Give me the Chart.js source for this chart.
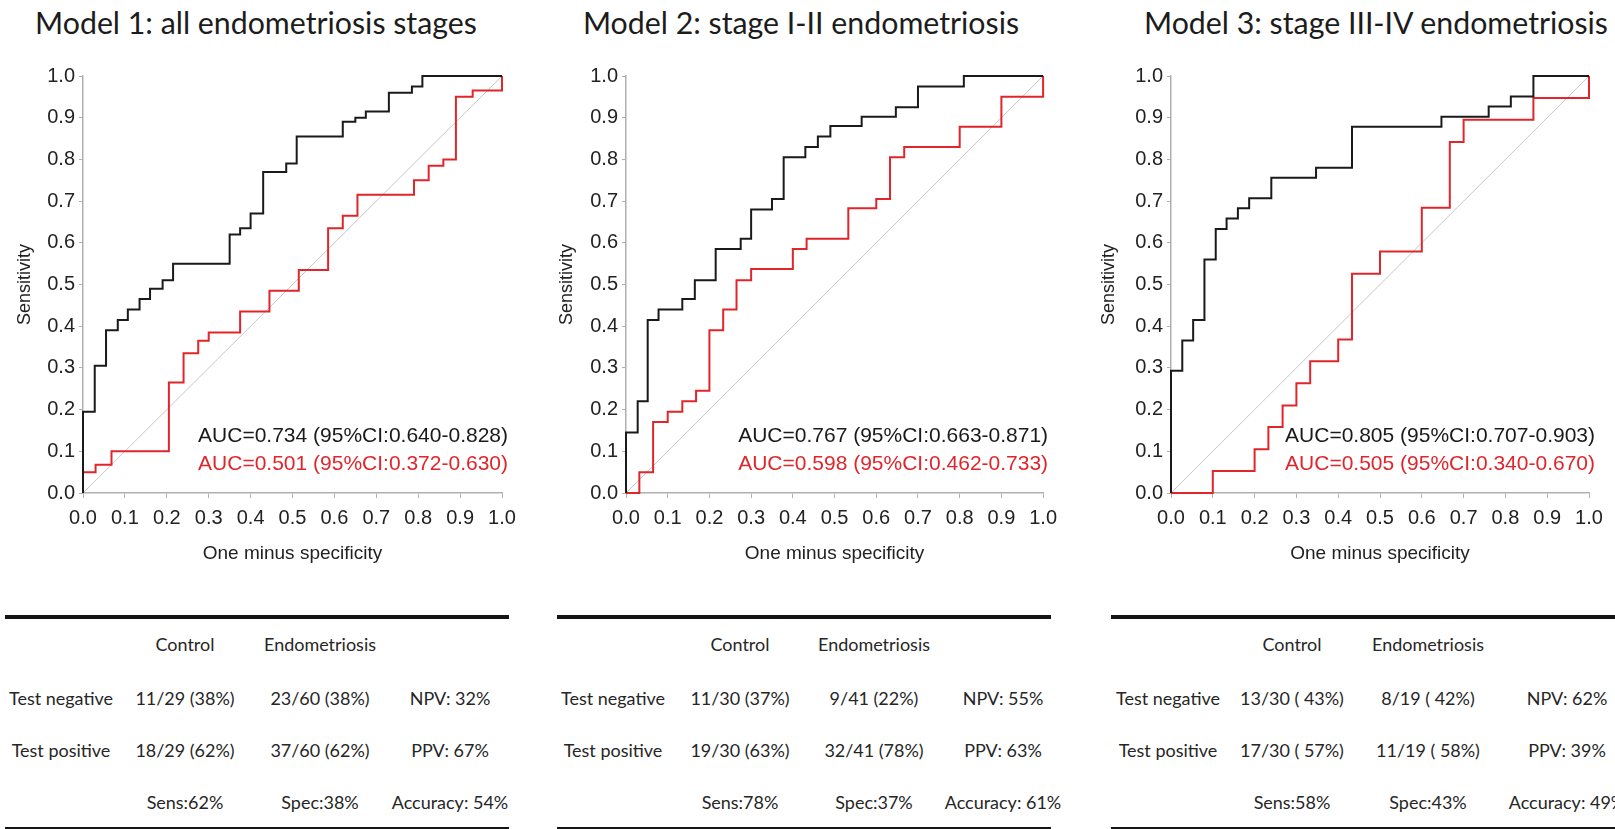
<!DOCTYPE html>
<html>
<head>
<meta charset="utf-8">
<script src="https://cdn.jsdelivr.net/npm/chart.js@4.4.0/dist/chart.umd.min.js"></script>
<style>
    html, body { margin: 0; padding: 0; background: #fff; }
    body { width: 1615px; height: 829px; position: relative; overflow: hidden; font-family: Lato, 'Noto Sans', sans-serif; }
    canvas { position: absolute; }
    .title, .cell { position: absolute; white-space: pre; transform: translate(-50%, -50%); line-height: 1.2; }
    .title { color: #1c1c1c; }
    .cell { color: #262626; }
    .rule { position: absolute; background: #151515; }
</style>
</head>
<body>
<script>
// ---- data ----
const axisTicks = [0, 0.1, 0.2, 0.3, 0.4, 0.5, 0.6, 0.7, 0.8, 0.9, 1.0];

const titles = [
    'Model 1: all endometriosis stages',
    'Model 2: stage I-II endometriosis',
    'Model 3: stage III-IV endometriosis'
];

// model 1 (one minus specificity / sensitivity)
const m1BlackX = [0, 0, 0.028, 0.055, 0.083, 0.107, 0.135, 0.16, 0.19, 0.215, 0.35, 0.375, 0.40, 0.43, 0.485, 0.51, 0.62, 0.65, 0.675, 0.73, 0.785, 0.81, 1.0];
const m1BlackY = [0, 0.195, 0.305, 0.39, 0.415, 0.44, 0.465, 0.49, 0.51, 0.55, 0.62, 0.635, 0.67, 0.77, 0.79, 0.855, 0.89, 0.90, 0.915, 0.96, 0.975, 1.0, 1.0];
const m1RedX = [0, 0, 0.03, 0.068, 0.205, 0.24, 0.275, 0.30, 0.375, 0.445, 0.515, 0.585, 0.62, 0.655, 0.79, 0.825, 0.86, 0.89, 0.93, 1.0, 1.0];
const m1RedY = [0, 0.05, 0.068, 0.10, 0.265, 0.335, 0.365, 0.385, 0.435, 0.485, 0.535, 0.635, 0.665, 0.715, 0.75, 0.785, 0.80, 0.95, 0.965, 0.965, 1.0];

// model 2
const m2BlackX = [0, 0, 0.028, 0.052, 0.078, 0.135, 0.165, 0.215, 0.275, 0.30, 0.35, 0.378, 0.43, 0.46, 0.49, 0.565, 0.647, 0.70, 0.81, 1.0];
const m2BlackY = [0, 0.145, 0.22, 0.415, 0.44, 0.465, 0.51, 0.585, 0.61, 0.68, 0.705, 0.805, 0.83, 0.855, 0.88, 0.902, 0.925, 0.975, 1.0, 1.0];
const m2RedX = [0, 0.032, 0.065, 0.10, 0.135, 0.168, 0.20, 0.233, 0.265, 0.30, 0.40, 0.433, 0.533, 0.60, 0.633, 0.667, 0.80, 0.90, 1.0, 1.0];
const m2RedY = [0, 0.05, 0.17, 0.195, 0.22, 0.245, 0.39, 0.44, 0.51, 0.537, 0.585, 0.61, 0.683, 0.705, 0.805, 0.83, 0.878, 0.95, 0.95, 1.0];

// model 3
const m3BlackX = [0, 0, 0.027, 0.053, 0.08, 0.107, 0.133, 0.16, 0.187, 0.24, 0.347, 0.433, 0.647, 0.76, 0.813, 0.867, 1.0];
const m3BlackY = [0, 0.293, 0.366, 0.415, 0.56, 0.633, 0.658, 0.683, 0.707, 0.756, 0.78, 0.878, 0.902, 0.927, 0.951, 1.0, 1.0];
const m3RedX = [0, 0.10, 0.20, 0.233, 0.267, 0.30, 0.333, 0.40, 0.433, 0.50, 0.60, 0.667, 0.70, 0.867, 1.0, 1.0];
const m3RedY = [0, 0.053, 0.105, 0.158, 0.21, 0.263, 0.316, 0.368, 0.526, 0.579, 0.684, 0.842, 0.895, 0.947, 0.947, 1.0];

const m1Auc = ['AUC=0.734 (95%CI:0.640-0.828)', 'AUC=0.501 (95%CI:0.372-0.630)'];
const m2Auc = ['AUC=0.767 (95%CI:0.663-0.871)', 'AUC=0.598 (95%CI:0.462-0.733)'];
const m3Auc = ['AUC=0.805 (95%CI:0.707-0.903)', 'AUC=0.505 (95%CI:0.340-0.670)'];

// 2x2 tables under each plot
const tableColumns = ['Control', 'Endometriosis'];
const rowNames = ['Test negative', 'Test positive'];
const m1Negative = ['11/29 (38%)', '23/60 (38%)', 'NPV: 32%'];
const m1Positive = ['18/29 (62%)', '37/60 (62%)', 'PPV: 67%'];
const m1Summary = ['Sens:62%', 'Spec:38%', 'Accuracy: 54%'];
const m2Negative = ['11/30 (37%)', '9/41 (22%)', 'NPV: 55%'];
const m2Positive = ['19/30 (63%)', '32/41 (78%)', 'PPV: 63%'];
const m2Summary = ['Sens:78%', 'Spec:37%', 'Accuracy: 61%'];
const m3Negative = ['13/30 ( 43%)', '8/19 ( 42%)', 'NPV: 62%'];
const m3Positive = ['17/30 ( 57%)', '11/19 ( 58%)', 'PPV: 39%'];
const m3Summary = ['Sens:58%', 'Spec:43%', 'Accuracy: 49%'];

// ---- look ----
const BLACK = '#1a1a1a';
const RED = '#e0262b';
const AXIS_GREY = '#b0b0b0';
const ARIAL = "'Liberation Sans', Arial, sans-serif";

Chart.defaults.font.family = ARIAL;
Chart.defaults.color = '#222';

// AUC captions sit just inside the lower right corner of the plot
const aucPlugin = {
    id: 'aucText',
    afterDatasetsDraw(chart, args, opts) {
        const { ctx, chartArea, scales } = chart;
        ctx.save();
        ctx.font = `${opts.size}px ${ARIAL}`;
        ctx.textAlign = 'right';
        ctx.textBaseline = 'middle';
        opts.lines.forEach((text, i) => {
            ctx.fillStyle = i === 0 ? BLACK : RED;
            ctx.fillText(text, chartArea.right + opts.dx, scales.y.getPixelForValue(opts.rows[i]));
        });
        ctx.restore();
    }
};

const toPoints = (xs, ys) => xs.map((x, i) => ({ x, y: ys[i] }));

class RocPanel {
    constructor(cfg) {
        this.cfg = cfg;
        this.chart = null;
    }

    draw() {
        const c = this.cfg;
        const canvas = document.createElement('canvas');
        canvas.width = c.box.w;
        canvas.height = c.box.h;
        canvas.style.left = c.box.x + 'px';
        canvas.style.top = c.box.y + 'px';
        document.body.appendChild(canvas);

        const axis = (extra) => ({
            type: 'linear',
            min: 0,
            max: 1,
            afterBuildTicks: (s) => { s.ticks = axisTicks.map(v => ({ value: v })); },
            border: { display: true, color: AXIS_GREY, width: 1.5 },
            ...extra
        });

        this.chart = new Chart(canvas.getContext('2d'), {
            type: 'line',
            data: {
                datasets: [
                    { data: toPoints(c.blackX, c.blackY), borderColor: BLACK, borderWidth: 2, stepped: 'before' },
                    { data: toPoints(c.redX, c.redY), borderColor: RED, borderWidth: 2, stepped: 'before' },
                    { data: toPoints([0, 1], [0, 1]), borderColor: '#c6c6c6', borderWidth: 1 }
                ]
            },
            options: {
                responsive: false,
                animation: false,
                elements: { point: { radius: 0 }, line: { tension: 0 } },
                datasets: { line: { clip: false } },
                layout: { padding: { left: 0, top: c.plot.top - c.box.y, right: c.box.x + c.box.w - c.plot.right, bottom: 0 } },
                plugins: {
                    legend: { display: false },
                    tooltip: { enabled: false },
                    aucText: { lines: c.auc, rows: [0.136, 0.068], dx: c.aucDx, size: 21 }
                },
                scales: {
                    x: axis({
                        position: 'bottom',
                        grid: { drawOnChartArea: false, drawTicks: true, tickLength: 5, color: AXIS_GREY, tickColor: AXIS_GREY },
                        ticks: { autoSkip: false, maxRotation: 0, padding: 8, font: { size: 20 }, callback: v => v.toFixed(1) },
                        title: { display: true, text: 'One minus specificity', font: { size: 19 }, padding: { top: 0, bottom: 10 } },
                        afterFit: (s) => { s.height = c.box.y + c.box.h - c.plot.bottom; }
                    }),
                    y: axis({
                        position: 'left',
                        grid: { drawOnChartArea: false, drawTicks: true, tickLength: 4, color: AXIS_GREY, tickColor: AXIS_GREY },
                        ticks: { autoSkip: false, padding: 4, font: { size: 20 }, callback: v => v.toFixed(1) },
                        title: { display: true, text: 'Sensitivity', font: { size: 18 }, padding: { top: c.yTitlePad, bottom: 0 } },
                        afterFit: (s) => { s.width = c.plot.left - c.box.x; }
                    })
                }
            },
            plugins: [aucPlugin]
        });
    }
}

function textWidth(text, font) {
    const ctx = document.createElement('canvas').getContext('2d');
    ctx.font = font;
    return ctx.measureText(text).width;
}

function addText(cls, text, x, y, size) {
    const el = document.createElement('div');
    el.className = cls;
    el.textContent = text;
    el.style.left = x + 'px';
    el.style.top = y + 'px';
    el.style.fontSize = size + 'px';
    document.body.appendChild(el);
}

function addRule(x, y, w, h) {
    const el = document.createElement('div');
    el.className = 'rule';
    Object.assign(el.style, { left: x + 'px', top: y + 'px', width: w + 'px', height: h + 'px' });
    document.body.appendChild(el);
}

// ---- layout ----
const panels = [
    { box: { x: 0, y: 60, w: 530, h: 515 }, plot: { left: 83, right: 502, top: 73, bottom: 493 }, yTitlePad: 14, aucDx: 6,
      blackX: m1BlackX, blackY: m1BlackY, redX: m1RedX, redY: m1RedY, auc: m1Auc,
      titleX: 256, rule: [5, 504], cols: [61, 185, 320, 450], rows: [m1Negative, m1Positive, m1Summary] },
    { box: { x: 535, y: 60, w: 530, h: 515 }, plot: { left: 626, right: 1047, top: 73, bottom: 493 }, yTitlePad: 21, aucDx: 5,
      blackX: m2BlackX, blackY: m2BlackY, redX: m2RedX, redY: m2RedY, auc: m2Auc,
      titleX: 801, rule: [557, 494], cols: [613, 740, 874, 1003], rows: [m2Negative, m2Positive, m2Summary] },
    { box: { x: 1075, y: 60, w: 540, h: 515 }, plot: { left: 1171, right: 1589, top: 73, bottom: 493 }, yTitlePad: 23, aucDx: 6,
      blackX: m3BlackX, blackY: m3BlackY, redX: m3RedX, redY: m3RedY, auc: m3Auc,
      titleX: 1376, rule: [1111, 520], cols: [1168, 1292, 1428, 1567], rows: [m3Negative, m3Positive, m3Summary] }
];

const titleSize = 100 * 442 / textWidth(titles[0], '100px Lato');
const cellSize = 100 * 104 / textWidth(rowNames[0], '100px Lato');
const rowY = [699, 751, 803];

panels.forEach((p, i) => {
    new RocPanel(p).draw();
    addText('title', titles[i], p.titleX, 22, titleSize);

    addRule(p.rule[0], 615, p.rule[1], 4);
    addRule(p.rule[0], 827, p.rule[1], 4);
    addText('cell', tableColumns[0], p.cols[1], 645, cellSize);
    addText('cell', tableColumns[1], p.cols[2], 645, cellSize);
    p.rows.forEach((row, r) => {
        if (r < rowNames.length) addText('cell', rowNames[r], p.cols[0], rowY[r], cellSize);
        row.forEach((v, k) => addText('cell', v, p.cols[k + 1], rowY[r], cellSize));
    });
});
</script>
</body>
</html>
